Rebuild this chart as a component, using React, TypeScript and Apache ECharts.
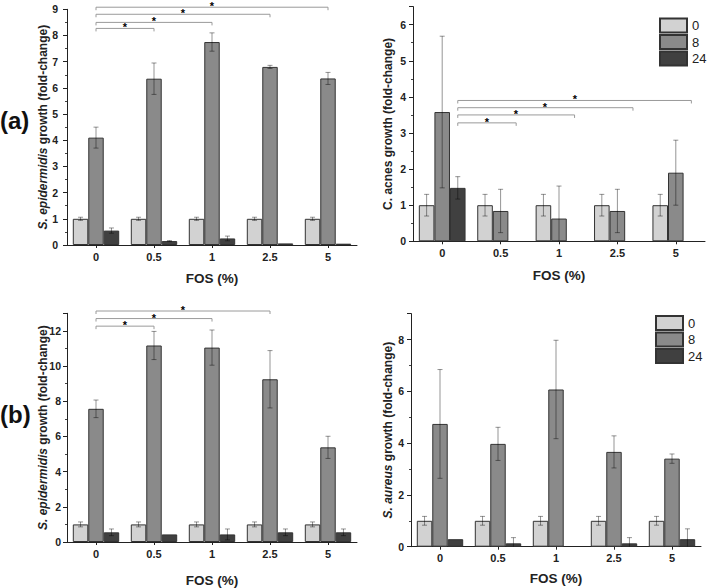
import React, { useEffect, useRef } from "react";
import * as echarts from "echarts";

// ---------- data ----------
const categories = ["0", "0.5", "1", "2.5", "5"];
const timeNames = ["0", "8", "24"];

// (a) left: S. epidermidis
const aLeft0 = [1, 1, 1, 1, 1];
const aLeft0Err = [0.06, 0.06, 0.06, 0.06, 0.06];
const aLeft8 = [4.1, 6.35, 7.75, 6.8, 6.36];
const aLeft8Err = [0.4, 0.6, 0.35, 0.06, 0.23];
const aLeft24 = [0.55, 0.15, 0.25, 0.06, 0.05];
const aLeft24Err = [0.1, 0.02, 0.09, 0, 0];
const aLeftSig = [
  [0, 1, 8.27],
  [0, 2, 8.5],
  [0, 3, 8.81],
  [0, 4, 9.08],
];

// (a) right: C. acnes
const aRight0 = [1, 1, 1, 1, 1];
const aRight0Err = [0.3, 0.3, 0.3, 0.3, 0.3];
const aRight8 = [3.58, 0.84, 0.63, 0.84, 1.9];
const aRight8Err = [2.1, 0.6, 0.9, 0.6, 0.9];
const aRight24 = [1.48, null, null, null, null];
const aRight24Err = [0.31, 0, 0, 0, 0];
const aRightSig = [
  [0, 1, 3.28],
  [0, 2, 3.5],
  [0, 3, 3.7],
  [0, 4, 3.9],
];

// (b) left: S. epidermidis
const bLeft0 = [1, 1, 1, 1, 1];
const bLeft0Err = [0.14, 0.14, 0.14, 0.14, 0.14];
const bLeft8 = [7.57, 11.17, 11.05, 9.25, 5.38];
const bLeft8Err = [0.5, 0.8, 1.0, 1.63, 0.63];
const bLeft24 = [0.55, 0.43, 0.43, 0.55, 0.55];
const bLeft24Err = [0.19, 0, 0.31, 0.19, 0.19];
const bLeftSig = [
  [0, 1, 12.27],
  [0, 2, 12.7],
  [0, 3, 13.13],
];

// (b) right: S. aureus
const bRight0 = [1, 1, 1, 1, 1];
const bRight0Err = [0.17, 0.17, 0.17, 0.17, 0.17];
const bRight8 = [4.74, 3.97, 6.07, 3.66, 3.4];
const bRight8Err = [2.1, 0.64, 1.9, 0.62, 0.18];
const bRight24 = [0.29, 0.13, null, 0.13, 0.29];
const bRight24Err = [0, 0.22, 0, 0.22, 0.4];

// ---------- styling ----------
const FONT = "Liberation Sans, Arial, Helvetica, sans-serif";
const barColors = ["#d2d2d2", "#8a8a8a", "#404040"];
const BAR_FRAC = 0.8;

type Panel = {
  values: (number | null)[][];
  errors: number[][];
  sig: number[][];
  sigOffset: number;
  grid: any;
  yMax: number;
  yInterval: number;
  showMax: boolean;
  yName: string;
  yNameGap: number;
  xNameGap: number;
  yLabelMargin: number;
};

const panels: Panel[] = [
  {
    values: [aLeft0, aLeft8, aLeft24],
    errors: [aLeft0Err, aLeft8Err, aLeft24Err],
    sig: aLeftSig,
    sigOffset: 0,
    grid: { left: 67, top: 9.3, width: 290, height: 235.7 },
    yMax: 9,
    yInterval: 1,
    showMax: true,
    yName: "{i|S. epidermidis} growth (fold-change)",
    yNameGap: 18.5,
    xNameGap: 26,
    yLabelMargin: 9,
  },
  {
    values: [aRight0, aRight8, aRight24],
    errors: [aRight0Err, aRight8Err, aRight24Err],
    sig: aRightSig,
    sigOffset: 1,
    grid: { left: 413, top: 6.6, width: 292, height: 234.7 },
    yMax: 6.5,
    yInterval: 1,
    showMax: false,
    yName: "C. acnes growth (fold-change)",
    yNameGap: 19.5,
    xNameGap: 27,
    yLabelMargin: 7,
  },
  {
    values: [bLeft0, bLeft8, bLeft24],
    errors: [bLeft0Err, bLeft8Err, bLeft24Err],
    sig: bLeftSig,
    sigOffset: 0,
    grid: { left: 67, top: 313.3, width: 290, height: 233.4 },
    yMax: 13,
    yInterval: 2,
    showMax: false,
    yName: "{i|S. epidermidis} growth (fold-change)",
    yNameGap: 18.5,
    xNameGap: 31,
    yLabelMargin: 6,
  },
  {
    values: [bRight0, bRight8, bRight24],
    errors: [bRight0Err, bRight8Err, bRight24Err],
    sig: [],
    sigOffset: 0,
    grid: { left: 411, top: 313.6, width: 290, height: 233.1 },
    yMax: 9,
    yInterval: 2,
    showMax: false,
    yName: "{i|S. aureus} growth (fold-change)",
    yNameGap: 17,
    xNameGap: 25,
    yLabelMargin: 7,
  },
];

function errorRender(params: any, api: any) {
  const ci = api.value(0);
  const v = api.value(1);
  const e = api.value(2);
  const off = api.value(3);
  const bw = (api.size([1, 0])[0] * BAR_FRAC) / 3;
  const lowV = v - e;
  const top = api.coord([ci, v + e]);
  const bot = api.coord([ci, Math.max(0, lowV)]);
  const x = top[0] + off * bw;
  const cap = 2.5;
  const style = { stroke: "rgba(0,0,0,0.42)", lineWidth: 1 };
  const children: any[] = [
    { type: "line", shape: { x1: x, y1: top[1], x2: x, y2: bot[1] }, style },
    { type: "line", shape: { x1: x - cap, y1: top[1], x2: x + cap, y2: top[1] }, style },
  ];
  if (lowV > 0) {
    children.push({ type: "line", shape: { x1: x - cap, y1: bot[1], x2: x + cap, y2: bot[1] }, style });
  }
  return { type: "group", children };
}

function sigRender(params: any, api: any) {
  const f = api.value(0);
  const t = api.value(1);
  const y = api.value(2);
  const off = api.value(3);
  const bw = (api.size([1, 0])[0] * BAR_FRAC) / 3;
  const p1 = api.coord([f, y]);
  const p2 = api.coord([t, y]);
  const x1 = p1[0] + off * bw;
  const x2 = p2[0] + off * bw;
  const yy = p1[1];
  return {
    type: "group",
    children: [
      {
        type: "polyline",
        shape: { points: [[x1, yy + 3], [x1, yy], [x2, yy], [x2, yy + 3]] },
        style: { stroke: "#9a9a9a", lineWidth: 1, fill: null },
      },
      {
        type: "text",
        x: Math.round((x1 + x2) / 2),
        y: Math.round(yy - 1),
        style: {
          text: "*",
          fontSize: 11,
          fontWeight: "bold",
          fontFamily: FONT,
          fill: "#000",
          align: "center",
          verticalAlign: "middle",
        },
      },
    ],
  };
}

function buildOption() {
  const grid: any[] = [];
  const xAxis: any[] = [];
  const yAxis: any[] = [];
  const series: any[] = [];

  panels.forEach((p, gi) => {
    grid.push({ ...p.grid, containLabel: false });
    xAxis.push({
      type: "category",
      gridIndex: gi,
      data: categories,
      axisLine: { show: true, lineStyle: { color: "#222", width: 1 } },
      axisTick: { show: true, alignWithLabel: true, length: 3, lineStyle: { color: "#222" } },
      axisLabel: { fontSize: 11, fontWeight: "bold", color: "#222", fontFamily: FONT, margin: 6 },
      name: "FOS (%)",
      nameLocation: "middle",
      nameGap: p.xNameGap,
      nameMoveOverlap: false,
      nameTextStyle: { fontSize: 13.5, fontWeight: "bold", color: "#222", fontFamily: FONT },
      splitLine: { show: false },
    });
    yAxis.push({
      type: "value",
      gridIndex: gi,
      min: 0,
      max: p.yMax,
      interval: p.yInterval,
      axisLine: { show: true, lineStyle: { color: "#222", width: 1 } },
      axisTick: { show: true, length: 4, lineStyle: { color: "#222" } },
      minorTick: { show: true, splitNumber: 2, length: 2, lineStyle: { color: "#444" } },
      splitLine: { show: false },
      minorSplitLine: { show: false },
      axisLabel: {
        fontSize: 10.5,
        fontWeight: "bold",
        color: "#222",
        fontFamily: FONT,
        margin: p.yLabelMargin,
        showMaxLabel: p.showMax,
      },
      name: p.yName,
      nameLocation: "middle",
      nameGap: p.yNameGap,
      nameMoveOverlap: false,
      nameTextStyle: {
        fontSize: 12,
        fontWeight: "bold",
        color: "#222",
        fontFamily: FONT,
        rich: {
          i: { fontSize: 12, fontWeight: "bold", fontStyle: "italic", color: "#222", fontFamily: FONT },
        },
      },
    });

    timeNames.forEach((name, si) => {
      series.push({
        type: "bar",
        name,
        xAxisIndex: gi,
        yAxisIndex: gi,
        data: p.values[si].map((v) => (v === null ? "-" : v)),
        barGap: "0%",
        barCategoryGap: `${(1 - BAR_FRAC) * 100}%`,
        itemStyle: { color: barColors[si], borderColor: "#333", borderWidth: 1 },
        emphasis: { disabled: true },
      });
    });

    const errData: number[][] = [];
    timeNames.forEach((_, si) => {
      p.values[si].forEach((v, ci) => {
        const e = p.errors[si][ci];
        if (v !== null && e > 0) errData.push([ci, v, e, si - 1]);
      });
    });
    series.push({
      type: "custom",
      name: "err" + gi,
      xAxisIndex: gi,
      yAxisIndex: gi,
      renderItem: errorRender,
      data: errData,
      encode: { x: 0, y: 1 },
      z: 5,
      silent: true,
    });

    if (p.sig.length) {
      series.push({
        type: "custom",
        name: "sig" + gi,
        xAxisIndex: gi,
        yAxisIndex: gi,
        renderItem: sigRender,
        data: p.sig.map((s) => [s[0], s[1], s[2], p.sigOffset]),
        encode: { x: 0, y: 2 },
        z: 6,
        silent: true,
      });
    }
  });

  const legendBase = {
    orient: "vertical",
    padding: 0,
    itemWidth: 27,
    itemHeight: 14,
    itemGap: 0.5,
    icon: "rect",
    data: timeNames,
    selectedMode: false,
    textStyle: { fontSize: 13, color: "#222", fontFamily: FONT, lineHeight: 14 },
  };

  return {
    animation: false,
    backgroundColor: "#ffffff",
    textStyle: { fontFamily: FONT },
    grid,
    xAxis,
    yAxis,
    series,
    legend: [
      { ...legendBase, left: 659, top: 17.5 },
      { ...legendBase, left: 655, top: 315 },
    ],
    graphic: [
      { type: "text", left: 0, top: 108, style: { text: "(a)", font: `bold 24px ${FONT}`, fill: "#111" } },
      { type: "text", left: 0, top: 402, style: { text: "(b)", font: `bold 24px ${FONT}`, fill: "#111" } },
    ],
  };
}

export default function App() {
  const ref = useRef<HTMLDivElement>(null);
  useEffect(() => {
    document.body.style.margin = "0";
    if (!ref.current) return;
    const chart = echarts.init(ref.current, undefined, { renderer: "svg" });
    chart.setOption(buildOption() as any);
    return () => chart.dispose();
  }, []);
  return (
    <div
      ref={ref}
      style={{ position: "absolute", left: 0, top: 0, width: 708, height: 588, background: "#fff" }}
    />
  );
}
